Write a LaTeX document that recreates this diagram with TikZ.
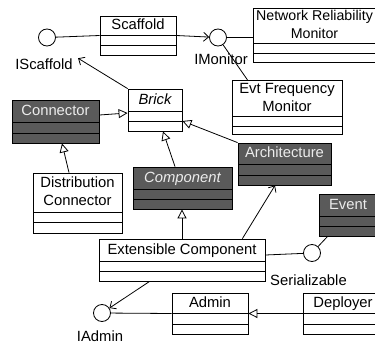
\documentclass[tikz,border=0pt]{standalone}
\usepackage{fontspec}
\setmainfont{Liberation Sans}
\usetikzlibrary{fit,arrows.meta}
\definecolor{boxgray}{RGB}{90,90,90}
\definecolor{textlight}{RGB}{236,236,236}
\tikzset{
  box/.style={draw, inner sep=0pt, minimum size=0pt},
  light/.style={box, fill=white},
  dark/.style={box, fill=boxgray},
  lighttext/.style={inner sep=0pt, text height=10.7pt, text depth=0pt},
  darktext/.style={lighttext, text=textlight},
  darkit/.style={dark},
  darkittext/.style={darktext, font=\itshape},
  lightit/.style={light},
  lightittext/.style={lighttext, font=\itshape},
  multi/.style={light},
  multitext/.style={inner sep=0pt, align=center},
  multiedge/.style={light},
  multiedgetext/.style={multitext, xshift=-3.5pt, font=\fontsize{14.2}{18.4}\selectfont},
  gen/.style={-{Triangle[open, length=9pt, width=9pt]}},
  dep/.style={-{Straight Barb[length=5pt, width=9pt]}},
  iface/.style={circle, draw, fill=white, minimum size=17pt, inner sep=0pt},
  lbl/.style={inner sep=0pt, text height=10.7pt, text depth=0pt},
}
% #1 name, #2 x1, #3 y1, #4 x2, #5 y2, #6 first line, #7 second line, #8 style, #9 text
\newcommand\umlclass[9]{%
  \node[#8, fit={(#2,#3) (#4,#5)}] (#1) {};
  \draw (#2,#6) -- (#4,#6) (#2,#7) -- (#4,#7);
  \node[#8text] (#1-name) at ({(#2+#4)/2},{(#3+#6)/2-1}) {#9};
}
\begin{document}
\fontsize{14.8}{18.4}\selectfont
\begin{tikzpicture}[x=1pt, y=-1pt, line width=0.8pt]
\useasboundingbox (0,0) rectangle (375,345);
\clip (0,0) rectangle (375,345);
\fill[white] (0,0) rectangle (375,345);

\umlclass{scaffold}{100}{16}{176}{55}{35}{45}{light}{Scaffold}
\umlclass{nrm}{253}{8}{383}{62}{43}{53}{multiedge}{Network Reliability\\Monitor}
\umlclass{evt}{232}{80.5}{342}{134}{116.5}{126}{multi}{Evt Frequency\\Monitor}
\umlclass{brick}{128}{89}{182}{131}{111}{121}{lightit}{Brick}
\umlclass{connector}{12}{100}{99}{143}{122}{133}{dark}{Connector}
\umlclass{dist}{33}{173}{122}{233}{212}{222}{multi}{Distribution\\Connector}
\umlclass{component}{133}{167}{232}{209}{189}{199}{darkit}{Component}
\umlclass{arch}{238}{143}{331}{185}{164}{175}{dark}{Architecture}
\umlclass{event}{319}{194}{377}{236}{216}{226}{dark}{Event}
\umlclass{ext}{99}{239}{265}{281}{261}{271}{light}{Extensible Component}
\umlclass{admin}{172}{293}{248}{334}{313}{324}{light}{Admin}
\umlclass{deployer}{303}{293}{383}{334}{313}{324}{light}{Deployer}

\node[iface] (iscaf) at (47,37.5) {};
\node[iface] (imon) at (218,37.5) {};
\node[iface] (serial) at (312,253) {};
\node[iface] (iadmin) at (102,313) {};

\node[lbl] (iscaflabel) at (44,64) {IScaffold};
\node[lbl] (imonlabel) at (221,59) {IMonitor};
\node[lbl] (seriallabel) at (308.5,280.3) {Serializable};
\node[lbl] (iadminlabel) at (100,336.5) {IAdmin};

% interfaces
\draw (iscaf) -- (scaffold.west);
\draw[dep] (scaffold.east) -- (imon);
\draw (imon) -- (imon -| nrm.west);
\draw (imon) -- ([xshift=16pt]evt.north west);
\draw ([yshift=5pt]ext.east) -- (serial);
\draw ([xshift=9pt]event.south west) -- (serial);
\draw (admin.west) -- (iadmin);

% dependencies
\draw[dep] (brick.north west) -- ([xshift=5pt]iscaflabel.north east);
\draw[dep] ([xshift=-23pt]ext.north east) -- ([xshift=-9.5pt]arch.south);
\draw[dep] ([xshift=51pt]ext.south west) -- (iadmin);

% generalizations
\draw[gen] ([yshift=6.5pt]connector.east) -- ([yshift=-3pt]brick.west);
\draw[gen] ([xshift=-8.5pt]dist.north) -- ([xshift=6.5pt]connector.south);
\draw[gen] ([xshift=-7.5pt]component.north) -- ([xshift=8pt]brick.south);
\draw[gen] (arch.north west) -- ([yshift=-11pt]brick.east);
\draw[gen] (ext.north) -- (ext.north |- component.south);
\draw[gen] (deployer.west) -- (admin.east);
\end{tikzpicture}
\end{document}
